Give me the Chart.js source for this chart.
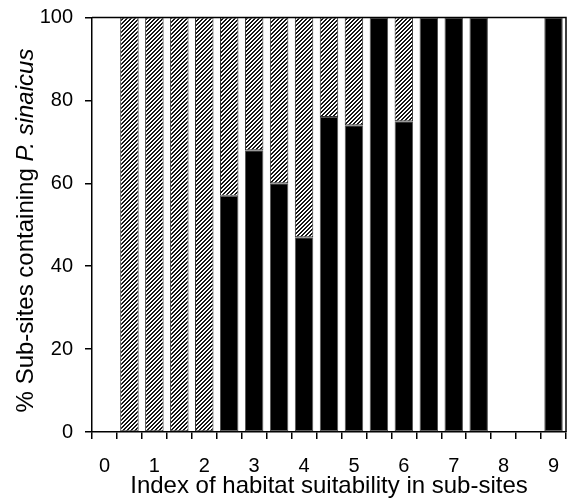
<!DOCTYPE html>
<html>
<head>
<meta charset="utf-8">
<script src="https://cdn.jsdelivr.net/npm/chart.js@4/dist/chart.umd.min.js"></script>
<style>
  html, body { margin: 0; padding: 0; background: #fff; }
  #wrap { width: 567px; height: 504px; }
</style>
</head>
<body>
<div id="wrap"><canvas id="c" width="567" height="504"></canvas></div>
<script>
// Half-step categories of the habitat suitability index
const categories = ['0','0.5','1','1.5','2','2.5','3','3.5','4','4.5','5','5.5','6','6.5','7','7.5','8','8.5','9'];
// Tick labels shown under the axis (only integers)
const tickLabels = ['0','','1','','2','','3','','4','','5','','6','','7','','8','','9'];
// Black (lower) segment, % of sub-sites
const blackValues = [null,null,null,null,null,57,68,60,47,76,74,100,75,100,100,100,null,null,100];
// Hatched (upper) segment, % of sub-sites
const hatchedValues = [null,100,100,100,100,43,32,40,53,24,26,null,25,null,null,null,null,null,null];
const yTicks = [0,20,40,60,80,100];

function makeHatch() {
  const s = 4;
  const c = document.createElement('canvas');
  c.width = s; c.height = s;
  const g = c.getContext('2d');
  const img = g.createImageData(s, s);
  for (let y = 0; y < s; y++) {
    for (let x = 0; x < s; x++) {
      const i = (y * s + x) * 4;
      const k = ((x + y) % s) < 2 ? 20 : 255;
      img.data[i] = k; img.data[i + 1] = k; img.data[i + 2] = k; img.data[i + 3] = 255;
    }
  }
  g.putImageData(img, 0, 0);
  return g.createPattern(c, 'repeat');
}

const FONT = "'Liberation Sans', Arial, Helvetica, sans-serif";
const ctx = document.getElementById('c').getContext('2d');

const framePlugin = {
  id: 'frame',
  afterDraw(chart) {
    const a = chart.chartArea;
    const g = chart.ctx;
    g.save();
    g.strokeStyle = '#000';
    g.lineWidth = 1.5;
    g.beginPath();
    g.moveTo(a.left, a.top);
    g.lineTo(a.right, a.top);
    g.lineTo(a.right, a.bottom);
    g.stroke();
    // y-axis title with italic species name
    g.translate(33, 230.5);
    g.rotate(-Math.PI / 2);
    g.fillStyle = '#000';
    g.textBaseline = 'alphabetic';
    const p1 = '% Sub-sites containing ';
    const p2 = 'P. sinaicus';
    g.font = '24px ' + FONT;
    const w1 = g.measureText(p1).width;
    g.font = 'italic 24px ' + FONT;
    const w2 = g.measureText(p2).width;
    const x0 = -(w1 + w2) / 2;
    g.font = '24px ' + FONT;
    g.textAlign = 'left';
    g.fillText(p1, x0, 0);
    g.font = 'italic 24px ' + FONT;
    g.fillText(p2, x0 + w1, 0);
    g.restore();
  }
};

new Chart(ctx, {
  type: 'bar',
  data: {
    labels: categories,
    datasets: [
      {
        label: 'black',
        data: blackValues,
        backgroundColor: '#000',
        borderColor: '#555',
        borderWidth: 1,
        borderSkipped: false,
        barPercentage: 0.74,
        categoryPercentage: 1.0
      },
      {
        label: 'hatched',
        data: hatchedValues,
        backgroundColor: makeHatch(),
        borderColor: '#333',
        borderWidth: 1,
        borderSkipped: false,
        barPercentage: 0.74,
        categoryPercentage: 1.0
      }
    ]
  },
  options: {
    responsive: false,
    animation: false,
    devicePixelRatio: 1,
    layout: { padding: { top: 17.5, right: 1, left: 0, bottom: 0 } },
    plugins: { legend: { display: false }, tooltip: { enabled: false }, title: { display: false } },
    scales: {
      x: {
        stacked: true,
        grid: { offset: true, drawOnChartArea: false, drawTicks: true, tickLength: 7, color: '#000', lineWidth: 1.5 },
        border: { display: true, color: '#000', width: 1.5 },
        ticks: {
          autoSkip: false, maxRotation: 0, minRotation: 0, padding: 15,
          color: '#000', font: { family: FONT, size: 20 },
          callback: (v, i) => tickLabels[i]
        },
        title: {
          display: true, text: 'Index of habitat suitability in sub-sites',
          color: '#000', font: { family: FONT, size: 24 }, padding: { top: 0, bottom: 3 }
        },
        afterFit(scale) { scale.height = 72; scale.paddingLeft = 0; scale.paddingRight = 0; }
      },
      y: {
        stacked: true, min: 0, max: 100,
        grid: { drawOnChartArea: false, drawTicks: true, tickLength: 7, color: '#000', lineWidth: 1.5 },
        border: { display: true, color: '#000', width: 1.5 },
        ticks: {
          stepSize: 20, padding: 12, color: '#000', font: { family: FONT, size: 20 },
          callback: (v) => yTicks.includes(v) ? String(v) : ''
        },
        afterFit(scale) { scale.width = 92; scale.paddingTop = 0; scale.paddingBottom = 0; }
      }
    }
  },
  plugins: [framePlugin]
});
</script>
</body>
</html>
